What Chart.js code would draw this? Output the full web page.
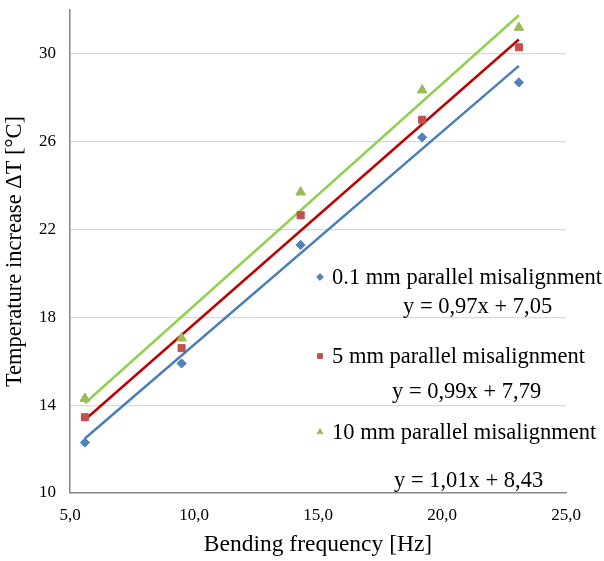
<!DOCTYPE html>
<html>
<head>
<meta charset="utf-8">
<script src="https://cdn.jsdelivr.net/npm/chart.js@4.4.0/dist/chart.umd.min.js"></script>
<style>
  html, body { margin: 0; padding: 0; background: #fff; }
</style>
</head>
<body>
<canvas id="tempChart" width="604" height="561"></canvas>
<script>
  // Bending frequency [Hz] of the five test points
  const frequencies = [5.6, 9.5, 14.3, 19.2, 23.1];

  // Measured temperature increase [°C] per misalignment
  const rise01mm = [12.3, 15.9, 21.3, 26.2, 28.7];
  const rise5mm = [13.45, 16.6, 22.65, 27.0, 30.3];
  const rise10mm = [14.3, 17.05, 23.7, 28.35, 31.2];

  const seriesNames = [
    '0.1 mm parallel misalignment',
    '5 mm parallel misalignment',
    '10 mm parallel misalignment'
  ];

  // Linear trendlines as printed on the chart: y = a*x + b
  const slopes = [0.97, 0.99, 1.01];
  const intercepts = [7.05, 7.79, 8.43];
  const equations = ['y = 0,97x + 7,05', 'y = 0,99x + 7,79', 'y = 1,01x + 8,43'];

  // tick labels
  const xTicks = [5, 10, 15, 20, 25];
  const yTicks = [10, 14, 18, 22, 26, 30];

  const markerColors = ['#4F81BD', '#C0504D', '#9BBB59'];
  const lineColors = ['#4A7EBB', '#C00000', '#92D050'];
  const markerStyles = ['rectRot', 'rect', 'triangle'];
  const markerSizes = [4.6, 5, 5.6];

  const serif = '"Liberation Serif", "Times New Roman", serif';

  function toPoints(ys) {
    return frequencies.map((x, i) => ({ x: x, y: ys[i] }));
  }

  // trendline spans the measured frequency range
  function trendPoints(i) {
    const x0 = frequencies[0];
    const x1 = frequencies[frequencies.length - 1];
    return [
      { x: x0, y: slopes[i] * x0 + intercepts[i] },
      { x: x1, y: slopes[i] * x1 + intercepts[i] }
    ];
  }

  const allRises = [rise01mm, rise5mm, rise10mm];
  const datasets = [];

  allRises.forEach((ys, i) => {
    datasets.push({
      label: seriesNames[i] + ' trend',
      data: trendPoints(i),
      showLine: true,
      borderColor: lineColors[i],
      borderWidth: 2.5,
      pointRadius: 0,
      order: 2
    });
  });
  allRises.forEach((ys, i) => {
    datasets.push({
      label: seriesNames[i],
      data: toPoints(ys),
      showLine: false,
      pointStyle: markerStyles[i],
      pointRadius: markerSizes[i],
      pointBackgroundColor: markerColors[i],
      pointBorderColor: markerColors[i],
      pointBorderWidth: 1,
      order: 1
    });
  });

  // legend with trendline equations, drawn inside the plot
  const trendLegend = {
    id: 'trendLegend',
    afterDatasetsDraw(chart) {
      const ctx = chart.ctx;
      const markerX = 320;
      const labelX = 332;
      const rowY = [284, 363, 439];
      const eqX = [403, 392, 394];
      const eqY = [313, 398, 487];
      ctx.save();
      ctx.font = '22.5px ' + serif;
      ctx.fillStyle = '#000';
      ctx.textBaseline = 'alphabetic';
      ctx.textAlign = 'left';
      seriesNames.forEach((name, i) => {
        ctx.fillStyle = markerColors[i];
        ctx.strokeStyle = markerColors[i];
        Chart.helpers.drawPoint(ctx, { pointStyle: markerStyles[i], radius: 3.4, borderWidth: 0.5, rotation: 0 }, markerX, rowY[i] - 7);
        ctx.fillStyle = '#000';
        ctx.fillText(name, labelX, rowY[i]);
        ctx.fillText(equations[i], eqX[i], eqY[i]);
      });
      ctx.restore();
    }
  };

  const ctx = document.getElementById('tempChart').getContext('2d');

  new Chart(ctx, {
    type: 'scatter',
    data: { datasets: datasets },
    plugins: [trendLegend],
    options: {
      responsive: false,
      animation: false,
      layout: { padding: { left: 0, right: 38, top: 10, bottom: 0 } },
      plugins: {
        legend: { display: false },
        tooltip: { enabled: false }
      },
      scales: {
        x: {
          type: 'linear',
          min: 5,
          max: 25,
          afterBuildTicks: (scale) => { scale.ticks = xTicks.map(v => ({ value: v })); },
          afterFit: (scale) => {
            scale.height = 68;
            scale.paddingLeft = 0;
            scale.paddingRight = 0;
          },
          grid: { display: false, drawTicks: false },
          border: { display: true, color: '#868686', width: 1.5 },
          ticks: {
            padding: 12,
            maxRotation: 0,
            color: '#000',
            font: { family: serif, size: 17 },
            callback: (v) => v.toFixed(1).replace('.', ',')
          },
          title: {
            display: true,
            text: 'Bending frequency [Hz]',
            color: '#000',
            font: { family: serif, size: 23.5 },
            padding: { top: 0, bottom: 2 }
          }
        },
        y: {
          type: 'linear',
          min: 10,
          max: 32,
          afterBuildTicks: (scale) => { scale.ticks = yTicks.map(v => ({ value: v })); },
          afterFit: (scale) => {
            scale.width = 70;
            scale.paddingTop = 0;
            scale.paddingBottom = 0;
          },
          grid: {
            drawTicks: false,
            color: (c) => (c.tick && c.tick.value === 10 ? 'rgba(0,0,0,0)' : '#D9D9D9'),
            lineWidth: 1.3
          },
          border: { display: true, color: '#868686', width: 1.5 },
          ticks: {
            padding: 14,
            color: '#000',
            font: { family: serif, size: 17 }
          },
          title: {
            display: true,
            text: 'Temperature increase ΔT [°C]',
            color: '#000',
            font: { family: serif, size: 22.5 },
            padding: { top: 2, bottom: 0 }
          }
        }
      }
    }
  });
</script>
</body>
</html>
